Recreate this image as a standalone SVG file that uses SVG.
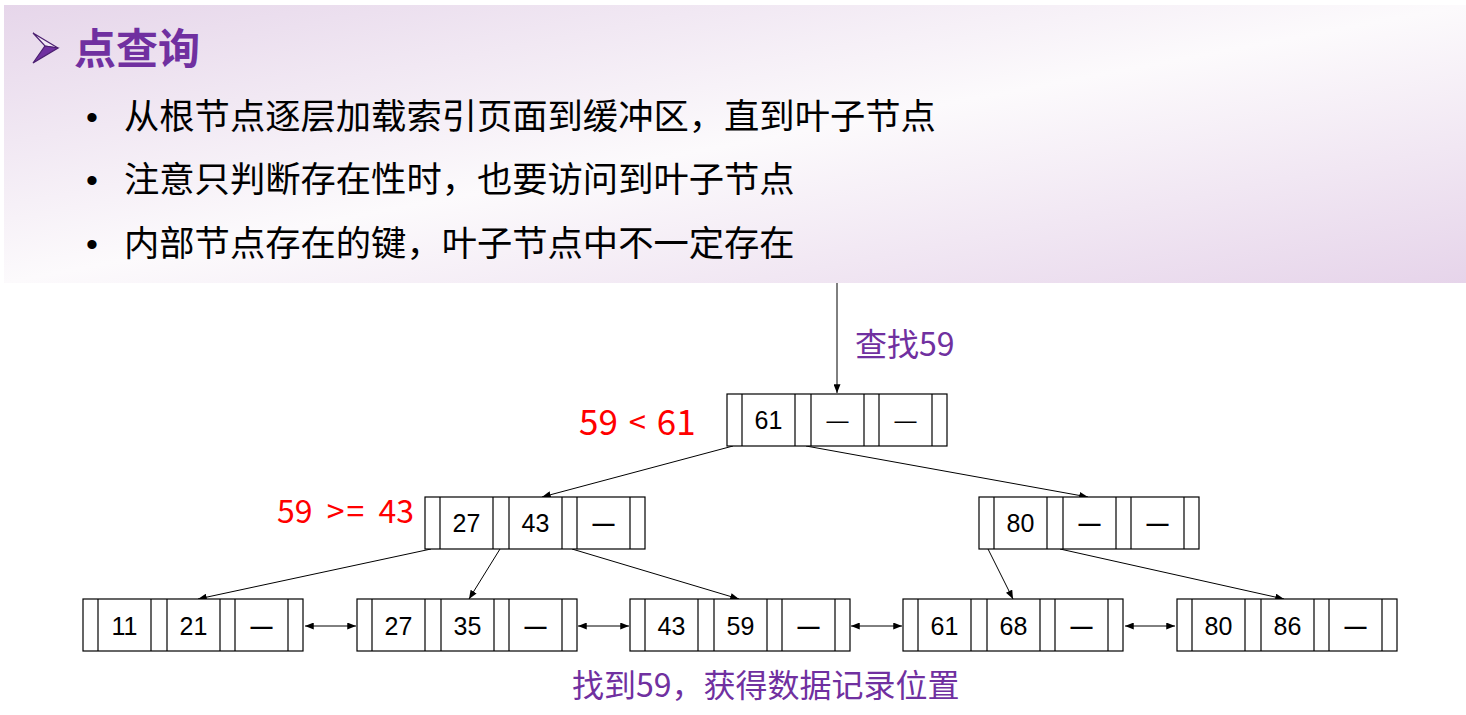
<svg xmlns="http://www.w3.org/2000/svg" xmlns:xlink="http://www.w3.org/1999/xlink" width="1466" height="715" viewBox="0 0 1466 715">
<defs>
<linearGradient id="band" x1="0" y1="0" x2="1" y2="1">
<stop offset="0" stop-color="#E6D6EA"/>
<stop offset="0.5" stop-color="#FCFAFC"/>
<stop offset="1" stop-color="#E6D4EA"/>
</linearGradient>
<marker id="ah" viewBox="0 0 10 8" refX="10" refY="4" markerWidth="9" markerHeight="7" markerUnits="userSpaceOnUse" orient="auto-start-reverse">
<path d="M0,0 L10,4 L0,8 z" fill="#000"/>
</marker>
<g id="frame" class="frame">
<rect x="0" y="0" width="220" height="52"/>
<line x1="15" y1="0" x2="15" y2="52"/>
<line x1="68" y1="0" x2="68" y2="52"/>
<line x1="84" y1="0" x2="84" y2="52"/>
<line x1="137" y1="0" x2="137" y2="52"/>
<line x1="152" y1="0" x2="152" y2="52"/>
<line x1="205" y1="0" x2="205" y2="52"/>
</g>
</defs>
<style>
.frame rect, .frame line { fill: #fff; stroke: #000; stroke-width: 1.2; }
.frame line { fill: none; }
.key { font-family: "Liberation Sans", Arial, sans-serif; font-size: 25px; fill: #000; text-anchor: middle; }
.dash { font-family: "Liberation Sans", Arial, sans-serif; font-size: 22px; fill: #000; text-anchor: middle; }
.bold { font-weight: bold; }
.conn { stroke: #000; stroke-width: 1; fill: none; marker-end: url(#ah); }
.dbl { marker-start: url(#ah); }
.cjk { font-family: "Noto Sans CJK SC", "Noto Sans", sans-serif; }
.bullet { font-size: 35.3px; fill: #000; }
.dot { font-family: "Liberation Sans", Arial, sans-serif; font-size: 34px; fill: #000; }
.purple { fill: #7030A0; }
.red { fill: #FF0000; }
</style>

<rect x="4" y="5" width="1462" height="278" fill="url(#band)"/>

<g id="title">
<polygon points="33,33 58,48 45,46" fill="#F2E8F4" stroke="#4B1F70" stroke-width="1.2"/>
<polygon points="45,46 58,48 33,63" fill="#7030A0" stroke="#4B1F70" stroke-width="1.2"/>
<text x="74" y="64" class="cjk purple" font-size="42" font-weight="bold">点查询</text>
</g>

<g id="bullets">
<text x="86" y="129" class="dot">•</text>
<text x="124" y="129" class="cjk bullet">从根节点逐层加载索引页面到缓冲区，直到叶子节点</text>
<text x="86" y="192" class="dot">•</text>
<text x="124" y="192" class="cjk bullet">注意只判断存在性时，也要访问到叶子节点</text>
<text x="86" y="256" class="dot">•</text>
<text x="124" y="256" class="cjk bullet">内部节点存在的键，叶子节点中不一定存在</text>
</g>

<g id="connectors">
<line class="conn" x1="837" y1="283" x2="837" y2="393"/>
<line class="conn" x1="733" y1="446" x2="542" y2="497"/>
<line class="conn" x1="806" y1="446" x2="1088" y2="497"/>
<line class="conn" x1="431" y1="549" x2="198" y2="599"/>
<line class="conn" x1="500" y1="549" x2="469" y2="599"/>
<line class="conn" x1="572" y1="549" x2="739" y2="599"/>
<line class="conn" x1="988" y1="549" x2="1013" y2="599"/>
<line class="conn" x1="1060" y1="549" x2="1284" y2="599"/>
<line class="conn dbl" x1="305" y1="626" x2="356" y2="626"/>
<line class="conn dbl" x1="578" y1="626" x2="629" y2="626"/>
<line class="conn dbl" x1="851" y1="626" x2="902" y2="626"/>
<line class="conn dbl" x1="1125" y1="626" x2="1175" y2="626"/>
</g>

<g id="node-root">
<use xlink:href="#frame" x="727" y="394"/>
<text class="key" x="768.5" y="429">61</text>
<text class="dash" x="837.5" y="428">—</text>
<text class="dash" x="905.5" y="428">—</text>
</g>

<g id="node-internal-1">
<use xlink:href="#frame" x="425" y="497"/>
<text class="key" x="466.5" y="532">27</text>
<text class="key" x="535.5" y="532">43</text>
<text class="dash bold" x="603.5" y="531">—</text>
</g>

<g id="node-internal-2">
<use xlink:href="#frame" x="979" y="497"/>
<text class="key" x="1020.5" y="532">80</text>
<text class="dash bold" x="1089.5" y="531">—</text>
<text class="dash bold" x="1157.5" y="531">—</text>
</g>

<g id="leaf-1">
<use xlink:href="#frame" x="83" y="599"/>
<text class="key" x="124.5" y="635">11</text>
<text class="key" x="193.5" y="635">21</text>
<text class="dash bold" x="261.5" y="634">—</text>
</g>

<g id="leaf-2">
<use xlink:href="#frame" x="357" y="599"/>
<text class="key" x="398.5" y="635">27</text>
<text class="key" x="467.5" y="635">35</text>
<text class="dash bold" x="535.5" y="634">—</text>
</g>

<g id="leaf-3">
<use xlink:href="#frame" x="630" y="599"/>
<text class="key" x="671.5" y="635">43</text>
<text class="key" x="740.5" y="635">59</text>
<text class="dash bold" x="808.5" y="634">—</text>
</g>

<g id="leaf-4">
<use xlink:href="#frame" x="903" y="599"/>
<text class="key" x="944.5" y="635">61</text>
<text class="key" x="1013.5" y="635">68</text>
<text class="dash bold" x="1081.5" y="634">—</text>
</g>

<g id="leaf-5">
<use xlink:href="#frame" x="1177" y="599"/>
<text class="key" x="1218.5" y="635">80</text>
<text class="key" x="1287.5" y="635">86</text>
<text class="dash bold" x="1355.5" y="634">—</text>
</g>

<g id="labels" class="cjk">
<text x="855" y="356" font-size="32" class="purple">查找59</text>
<text x="579" y="435" font-size="35" class="red" word-spacing="3">59 <tspan font-size="31" dy="-1">&lt;</tspan><tspan dy="1"> 61</tspan></text>
<text x="277" y="523" font-size="32" class="red" word-spacing="7">59 &gt;<tspan dx="2">=</tspan> 43</text>
<text x="572" y="697" font-size="32" class="purple">找到59，获得数据记录位置</text>
</g>
</svg>
